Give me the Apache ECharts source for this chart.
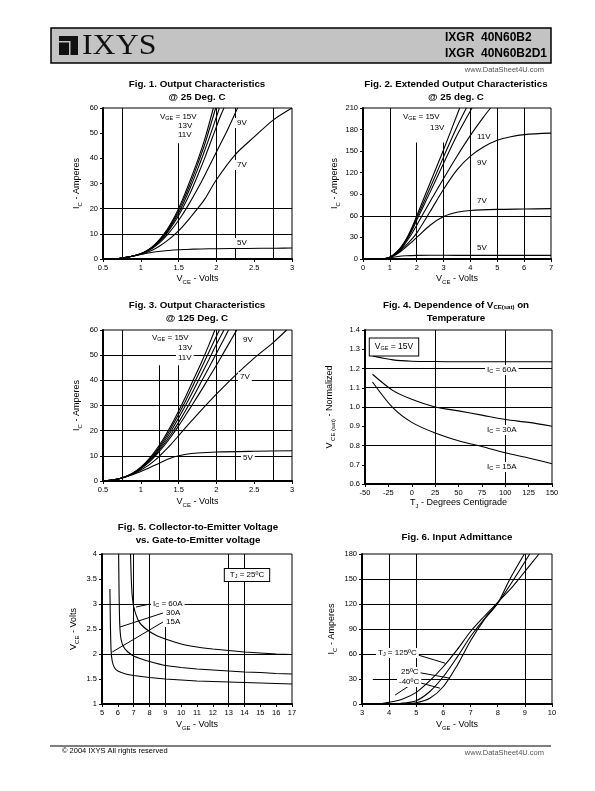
<!DOCTYPE html>
<html><head><meta charset="utf-8">
<script src="https://cdn.jsdelivr.net/npm/echarts@6/dist/echarts.min.js"></script>
<style>html,body{margin:0;padding:0;background:#fff}#c{width:595px;height:791px}</style>
</head><body><div id="c"></div>
<script>
// ---------------- DATA ----------------
// Fig. 1  Output characteristics @25C  [VCE (V), IC (A)]
const fig1_L1 = [[0.65,0],[0.75,0.4],[0.85,0.9],[0.95,1.6],[1.05,2.8],[1.15,4.8],[1.25,7.8],[1.35,11.8],[1.45,17],[1.55,23.5],[1.65,31],[1.75,39],[1.85,48],[1.96,60]];
const fig1_15V = [[0.65,0],[0.75,0.4],[0.85,0.9],[0.95,1.6],[1.05,2.8],[1.15,4.7],[1.25,7.6],[1.35,11.4],[1.45,16.3],[1.55,22.5],[1.65,29.5],[1.75,37.5],[1.85,46],[1.99,60]];
const fig1_13V = [[0.65,0],[0.75,0.4],[0.85,0.9],[0.95,1.6],[1.05,2.7],[1.15,4.6],[1.25,7.3],[1.35,11],[1.45,15.6],[1.55,21.3],[1.65,28],[1.75,35.5],[1.85,43.5],[1.95,52],[2.04,60]];
const fig1_11V = [[0.65,0],[0.75,0.4],[0.85,0.9],[0.95,1.6],[1.05,2.7],[1.15,4.5],[1.25,7],[1.35,10.5],[1.45,14.8],[1.55,20],[1.65,26],[1.75,33],[1.85,40.5],[1.95,48.5],[2.05,56.5],[2.1,60]];
const fig1_9V = [[0.65,0],[0.75,0.4],[0.85,0.9],[0.95,1.6],[1.05,2.6],[1.15,4.2],[1.25,6.5],[1.35,9.6],[1.45,13.3],[1.55,17.6],[1.65,22.5],[1.75,27.8],[1.85,33.5],[1.95,39.5],[2.05,45.5],[2.15,51.5],[2.28,60]];
const fig1_7V = [[0.65,0],[0.75,0.4],[0.85,0.9],[0.95,1.5],[1.05,2.3],[1.15,3.5],[1.25,5.2],[1.35,7.3],[1.45,9.8],[1.55,12.8],[1.65,16.3],[1.75,20],[1.85,24],[2,31.5],[2.25,41.5],[2.5,48.5],[2.75,55.2],[3,60]];
const fig1_5V = [[0.65,0],[0.75,0.4],[0.85,0.9],[0.95,1.5],[1.05,2.1],[1.2,2.9],[1.4,3.5],[1.6,3.8],[1.8,4.0],[2.0,4.1],[2.4,4.2],[2.8,4.3],[3,4.4]];

// Fig. 2  Extended output characteristics @25C
const fig2_L1 = [[0.7,0],[0.9,1],[1,2.5],[1.2,8],[1.4,16],[1.6,27],[1.8,42],[2,60],[2.5,106],[3,152],[3.6,210]];
const fig2_15V = [[0.7,0],[0.9,1],[1,2.5],[1.2,7.5],[1.4,15],[1.6,26],[1.8,40],[2,57],[2.5,99],[3,142],[3.5,184],[3.85,210]];
const fig2_13V = [[0.7,0],[0.9,1],[1,2.4],[1.2,7],[1.4,14],[1.6,25],[1.8,38],[2,54],[2.5,93],[3,133],[3.5,172],[4.06,210]];
const fig2_11V = [[0.7,0],[0.9,1],[1,2.3],[1.2,6.5],[1.4,13],[1.6,23],[1.8,34],[2,47],[2.5,80],[3,112],[3.5,143],[4,172],[4.5,198],[4.75,210]];
const fig2_9V = [[0.7,0],[1,2],[1.2,6],[1.4,12],[1.6,19],[1.8,27],[2,36],[2.5,66],[3,97],[3.5,124],[4,143],[4.5,156],[5,165],[5.5,170],[6,173],[7,175]];
const fig2_7V = [[0.7,0],[1,2],[1.2,5.5],[1.4,10.5],[1.6,16.5],[1.8,23],[2,30],[2.5,47],[3,59],[3.5,65],[4,67.5],[5,69],[6,69.5],[7,70]];
const fig2_5V = [[0.7,0],[1,1.5],[1.3,3.5],[1.6,4.5],[2,5],[3,5.2],[4,5],[7,5]];

// Fig. 3  Output characteristics @125C
const fig3_L1 = [[0.5,0],[0.6,0.3],[0.7,0.8],[0.8,1.8],[0.9,3.3],[1,5.5],[1.1,8.5],[1.2,12.3],[1.3,16.8],[1.4,22],[1.5,27.8],[1.6,34],[1.7,40.5],[1.8,47],[1.9,54],[1.98,60]];
const fig3_15V = [[0.5,0],[0.6,0.3],[0.7,0.8],[0.8,1.8],[0.9,3.2],[1,5.3],[1.1,8.1],[1.2,11.7],[1.3,16],[1.4,21],[1.5,26.5],[1.6,32.3],[1.7,38.5],[1.8,44.8],[1.9,51.2],[2.04,60]];
const fig3_13V = [[0.5,0],[0.6,0.3],[0.7,0.8],[0.8,1.7],[0.9,3.1],[1,5.1],[1.1,7.8],[1.2,11.2],[1.3,15.2],[1.4,19.8],[1.5,25],[1.6,30.5],[1.7,36.3],[1.8,42.2],[1.9,48.2],[2,54.3],[2.1,60]];
const fig3_11V = [[0.5,0],[0.6,0.3],[0.7,0.8],[0.8,1.7],[0.9,3.0],[1,5],[1.1,7.5],[1.2,10.7],[1.3,14.4],[1.4,18.6],[1.5,23.3],[1.6,28.4],[1.7,33.8],[1.8,39.4],[1.9,45],[2,50.7],[2.1,56.4],[2.16,60]];
const fig3_9V = [[0.5,0],[0.6,0.3],[0.7,0.8],[0.8,1.7],[0.9,2.9],[1,4.8],[1.1,7.2],[1.2,10.2],[1.3,13.7],[1.4,17.6],[1.5,21.9],[1.6,26.5],[1.7,31.2],[1.8,36],[1.9,41],[2,46],[2.1,51.2],[2.2,56.4],[2.27,60]];
const fig3_7V = [[0.5,0],[0.6,0.3],[0.7,0.8],[0.8,1.7],[0.9,2.9],[1,4.4],[1.1,6.2],[1.2,8.6],[1.3,11.5],[1.4,14.6],[1.5,18],[1.6,21.5],[1.75,26.5],[2,34.5],[2.25,42],[2.5,48.8],[2.75,55],[2.93,60]];
const fig3_5V = [[0.5,0],[0.6,0.3],[0.7,0.8],[0.8,1.6],[0.9,2.6],[1,3.8],[1.1,5.1],[1.25,7.2],[1.4,9.1],[1.5,10],[1.6,10.6],[1.75,11.1],[2,11.5],[2.5,11.8],[3,12]];

// Fig. 4  VCE(sat) normalized vs TJ
const fig4_60A = [[-42,1.265],[-20,1.245],[0,1.238],[25,1.236],[50,1.235],[75,1.235],[100,1.235],[125,1.235],[150,1.235]];
const fig4_30A = [[-42,1.17],[-20,1.085],[0,1.04],[25,1.0],[50,0.98],[75,0.958],[100,0.935],[125,0.92],[150,0.9]];
const fig4_15A = [[-42,1.13],[-20,0.995],[0,0.92],[25,0.865],[50,0.825],[75,0.795],[100,0.762],[125,0.735],[150,0.705]];

// Fig. 5  VCE vs VGE
const fig5_60A = [[6.8,4],[6.85,3.5],[6.9,3.2],[7,2.95],[7.25,2.7],[7.5,2.58],[8,2.45],[8.5,2.36],[9,2.3],[10,2.2],[11,2.14],[12,2.1],[13,2.07],[14,2.04],[15,2.02],[16,2.0],[17,1.99]];
const fig5_30A = [[6.05,4],[6.08,3.2],[6.12,2.6],[6.2,2.3],[6.35,2.15],[6.6,2.05],[7,1.96],[7.5,1.9],[8,1.85],[9,1.77],[10,1.73],[11,1.7],[12,1.68],[13,1.66],[14,1.64],[15,1.63],[16,1.61],[17,1.6]];
const fig5_15A = [[5.5,3.3],[5.53,2.6],[5.57,2.1],[5.65,1.85],[5.8,1.72],[6,1.66],[6.5,1.6],[7,1.57],[8,1.53],[9,1.5],[10,1.48],[11,1.46],[12,1.45],[13,1.44],[14,1.43],[15,1.42],[16,1.41],[17,1.4]];

// Fig. 6  Input admittance  [VGE (V), IC (A)]
const fig6_m40C = [[4.6,0],[5,1.5],[5.5,7],[6,21],[6.5,46],[7,76],[7.5,101],[8,121],[8.45,150],[8.98,180]];
const fig6_25C = [[4.2,0],[4.5,1],[5,4],[5.5,15],[6,33],[6.5,56],[7,81],[7.5,102],[8,121],[8.6,150],[9.18,180]];
const fig6_125C = [[3.6,0],[4,2],[4.5,6],[5,14],[5.5,28],[6,45],[6.5,65],[7,87],[7.5,105],[8,122],[8.5,139],[8.78,150],[9.52,180]];

// Axis tick setups  [min, max, interval]
const fig1_x = [0.5, 3, 0.5], fig1_y = [0, 60, 10];
const fig2_x = [0, 7, 1],     fig2_y = [0, 210, 30];
const fig3_x = [0.5, 3, 0.5], fig3_y = [0, 60, 10];
const fig4_x = [-50, 150, 25], fig4_y = [0.6, 1.4, 0.1];
const fig5_x = [5, 17, 1],    fig5_y = [1, 4, 0.5];
const fig6_x = [3, 10, 1],    fig6_y = [0, 180, 30];

// Reference grid lines of each figure: vertical [x, yFrom, yTo], horizontal [y, xFrom, xTo]
const fig1_vg = [[0.75,0,60],[1.5,0,46],[2,0,60],[2.25,0,60],[2.75,0,60]], fig1_hg = [[10,0.5,3],[20,0.5,3]];
const fig2_vg = [[1,0,210],[2,0,162],[3,0,162],[4,0,210],[5,0,210],[6,0,210]], fig2_hg = [[60,0,7]];
const fig3_vg = [[0.75,0,60],[1.25,0,46],[1.5,0,46],[2,0,60],[2.25,0,60],[2.75,0,60]], fig3_hg = [[10,0.5,3],[20,0.5,3],[30,0.5,3],[40,0.5,3],[50,0.5,3]];
const fig4_vg = [[25,0.6,1.4],[100,0.6,1.4]], fig4_hg = [[1.2,-50,150],[1.1,-50,150],[1.0,-50,150],[0.8,-50,150]];
const fig5_vg = [[7,1,4],[8,1,4],[9,1,2.55],[13,1,4],[14,1,4]], fig5_hg = [[3,5,17],[2,5,17]];
const fig6_vg = [[4,0,180],[5,0,180],[9,0,180]], fig6_hg = [[30,3.4,10],[60,3,10],[90,3,10],[120,3,10],[150,3,10]];

// leader lines from labels to curves (data coords)
const fig5_leaders = [[[8.03,3.0],[7.15,2.94]],[[8.85,2.82],[6.14,2.54]],[[8.85,2.64],[5.65,2.04]]];
const fig6_leaders = [[[4.84,61],[6.06,49]],[[4.99,38.4],[6.24,31]],[[5.03,26.4],[5.87,19]],[[4.22,10.8],[4.84,24]]];

// ---------------- CHART ----------------
const F = '"Liberation Sans", Arial, sans-serif';
const chart = echarts.init(document.getElementById('c'), null, {renderer:'canvas'});
const GRIDS = [
  {left:103, top:108, width:189, height:151},
  {left:363, top:108, width:188, height:151},
  {left:103, top:330, width:189, height:151},
  {left:365, top:330, width:187, height:154},
  {left:102, top:554, width:190, height:150},
  {left:362, top:554, width:190, height:150}
];
const rich = {
  n:{fontSize:9, fontFamily:F, color:'#000', lineHeight:12},
  s:{fontSize:6, fontFamily:F, color:'#000', lineHeight:7, verticalAlign:'bottom'}
};
function xAxis(i, r, name, gap){
  return {gridIndex:i, type:'value', min:r[0], max:r[1], interval:r[2],
    axisLine:{show:true, onZero:false, lineStyle:{color:'#000', width:2}},
    axisTick:{show:true, length:3, lineStyle:{color:'#000', width:1}},
    axisLabel:{color:'#000', fontSize:7.5, fontFamily:F, margin:5},
    splitLine:{show:false},
    name:name, nameLocation:'middle', nameGap:gap, nameTextStyle:{color:'#000', fontSize:9, fontFamily:F, rich:rich}};
}
function yAxis(i, r, name, gap, fmt){
  return {gridIndex:i, type:'value', min:r[0], max:r[1], interval:r[2],
    axisLine:{show:true, onZero:false, lineStyle:{color:'#000', width:2}},
    axisTick:{show:true, length:3, lineStyle:{color:'#000', width:1}},
    axisLabel:{color:'#000', fontSize:7.5, fontFamily:F, margin:5, formatter:fmt},
    splitLine:{show:false},
    name:name, nameLocation:'middle', nameRotate:90, nameGap:gap, nameTextStyle:{color:'#000', fontSize:9, fontFamily:F, rich:rich}};
}
function curve(i, data, sm){
  return {type:'line', xAxisIndex:i, yAxisIndex:i, data:data, showSymbol:false, symbol:'none',
    smooth: sm===undefined?0.3:sm, silent:true, lineStyle:{color:'#000', width:1.1}, z:3};
}
function gridLines(i, vg, hg, leaders){
  const d = [];
  vg.forEach(v=>d.push([{coord:[v[0],v[1]]},{coord:[v[0],v[2]]}]));
  hg.forEach(h=>d.push([{coord:[h[1],h[0]]},{coord:[h[2],h[0]]}]));
  (leaders||[]).forEach(l=>d.push([{coord:l[0]},{coord:l[1]}]));
  return {type:'line', xAxisIndex:i, yAxisIndex:i, data:[], silent:true, z:2,
    markLine:{silent:true, symbol:'none', animation:false, label:{show:false},
      lineStyle:{color:'#000', width:1, type:'solid'}, data:d}};
}
function txt(x, y, text, opt){
  opt = opt || {};
  return {type:'text', x:x, y:y, z:100, silent:true,
    style:Object.assign({text:text, fill:'#000', font:(opt.bold?'bold ':'')+(opt.size||8)+'px '+F,
      textAlign:opt.align||'left', textVerticalAlign:'middle', rich:opt.rich}, opt.style||{})};
}
const lab = {n:{fontSize:8, fontFamily:F, color:'#000'}, s:{fontSize:5.5, fontFamily:F, color:'#000', verticalAlign:'bottom', lineHeight:6}};
const labBg = {backgroundColor:'#fff', padding:[1,2]};
const tr = {n:{fontSize:9.8, fontFamily:F, fontWeight:'bold', color:'#000'}, s:{fontSize:6, fontFamily:F, fontWeight:'bold', color:'#000', verticalAlign:'bottom', lineHeight:7}};

const graphics = [
  // header
  {type:'rect', shape:{x:51, y:28, width:500, height:35}, style:{fill:'#c3c3c3', stroke:'#000', lineWidth:1.5}},
  {type:'rect', shape:{x:59, y:36, width:19, height:19}, style:{fill:'#111'}},
  {type:'rect', shape:{x:59, y:41, width:11, height:1.5}, style:{fill:'#c3c3c3'}},
  {type:'rect', shape:{x:69, y:41, width:1.5, height:14}, style:{fill:'#c3c3c3'}},
  {type:'text', x:82, y:46, scaleX:1.1, style:{text:'IXYS', fill:'#111', font:'29px "Liberation Serif", serif', textVerticalAlign:'middle'}},
  txt(445, 38, 'IXGR  40N60B2', {bold:true, size:12}),
  txt(445, 54, 'IXGR  40N60B2D1', {bold:true, size:12}),
  txt(544, 70, 'www.DataSheet4U.com', {size:7.5, align:'right', style:{fill:'#555'}}),
  // footer
  {type:'line', shape:{x1:50, y1:746, x2:551, y2:746}, style:{stroke:'#000', lineWidth:1}},
  txt(62, 751, '© 2004 IXYS All rights reserved', {size:7.5}),
  txt(544, 753, 'www.DataSheet4U.com', {size:7.5, align:'right', style:{fill:'#555'}}),
  // titles
  txt(197, 84, 'Fig. 1. Output Characteristics', {bold:true, size:9.8, align:'center'}),
  txt(197, 97, '@ 25 Deg. C', {bold:true, size:9.8, align:'center'}),
  txt(456, 84, 'Fig. 2. Extended Output Characteristics', {bold:true, size:9.8, align:'center'}),
  txt(456, 97, '@ 25 deg. C', {bold:true, size:9.8, align:'center'}),
  txt(197, 305, 'Fig. 3. Output Characteristics', {bold:true, size:9.8, align:'center'}),
  txt(197, 318, '@ 125 Deg. C', {bold:true, size:9.8, align:'center'}),
  txt(456, 305, '{n|Fig. 4. Dependence of V}{s|CE(sat)}{n| on}', {bold:true, size:9.8, align:'center', rich:tr}),
  txt(456, 318, 'Temperature', {bold:true, size:9.8, align:'center'}),
  txt(198, 527, 'Fig. 5. Collector-to-Emitter Voltage', {bold:true, size:9.8, align:'center'}),
  txt(198, 540, 'vs. Gate-to-Emitter voltage', {bold:true, size:9.8, align:'center'}),
  txt(457, 537, 'Fig. 6. Input Admittance', {bold:true, size:9.8, align:'center'}),
  // fig1 labels
  txt(158, 117, '{n|V}{s|GE}{n| = 15V}', {rich:lab, style:labBg}),
  txt(176, 126, '13V', {style:labBg}),
  txt(176, 135, '11V', {style:labBg}),
  txt(235, 123, '9V', {style:labBg}),
  txt(235, 165, '7V', {style:labBg}),
  txt(235, 243, '5V', {style:labBg}),
  // fig2 labels
  txt(401, 117, '{n|V}{s|GE}{n| = 15V}', {rich:lab, style:labBg}),
  txt(428, 128, '13V', {style:labBg}),
  txt(475, 137, '11V', {style:labBg}),
  txt(475, 163, '9V', {style:labBg}),
  txt(475, 201, '7V', {style:labBg}),
  txt(475, 248, '5V', {style:labBg}),
  // fig3 labels
  txt(150, 338, '{n|V}{s|GE}{n| = 15V}', {rich:lab, style:labBg}),
  txt(176, 348, '13V', {style:labBg}),
  txt(176, 358, '11V', {style:labBg}),
  txt(241, 340, '9V', {style:labBg}),
  txt(238, 377, '7V', {style:labBg}),
  txt(241, 458, '5V', {style:labBg}),
  // fig4 labels
  txt(394, 347, '{n|V}{s|GE}{n| = 15V}', {align:'center', rich:{n:{fontSize:8.5,fontFamily:F,color:'#000'}, s:lab.s}, style:{backgroundColor:'#fff', borderColor:'#000', borderWidth:1, padding:[4,5]}}),
  txt(485, 370, '{n|I}{s|C}{n| = 60A}', {rich:lab, style:labBg}),
  txt(485, 430, '{n|I}{s|C}{n| = 30A}', {rich:lab, style:labBg}),
  txt(485, 467, '{n|I}{s|C}{n| = 15A}', {rich:lab, style:labBg}),
  // fig5 labels
  txt(247, 575, '{n|T}{s|J}{n| = 25ºC}', {align:'center', rich:lab, style:{backgroundColor:'#fff', borderColor:'#000', borderWidth:1, padding:[2,5]}}),
  txt(151, 604, '{n|I}{s|C}{n| = 60A}', {rich:lab, style:labBg}),
  txt(164, 613, '30A', {style:labBg}),
  txt(164, 622, '15A', {style:labBg}),
  // fig6 labels
  txt(376, 653, '{n|T}{s|J}{n| = 125ºC}', {rich:lab, style:labBg}),
  txt(399, 672, '25ºC', {style:labBg}),
  txt(397, 682, '-40ºC', {style:labBg})
];

const option = {
  animation:false,
  backgroundColor:'#fff',
  grid: GRIDS.map(g=>Object.assign({show:true, borderColor:'#000', borderWidth:1, containLabel:false}, g)),
  xAxis:[
    xAxis(0, fig1_x, '{n|V}{s|CE}{n| - Volts}', 14),
    xAxis(1, fig2_x, '{n|V}{s|CE}{n| - Volts}', 14),
    xAxis(2, fig3_x, '{n|V}{s|CE}{n| - Volts}', 15),
    xAxis(3, fig4_x, '{n|T}{s|J}{n| - Degrees Centigrade}', 13),
    xAxis(4, fig5_x, '{n|V}{s|GE}{n| - Volts}', 15),
    xAxis(5, fig6_x, '{n|V}{s|GE}{n| - Volts}', 15)
  ],
  yAxis:[
    yAxis(0, fig1_y, '{n|I}{s|C}{n| - Amperes}', 20),
    yAxis(1, fig2_y, '{n|I}{s|C}{n| - Amperes}', 22),
    yAxis(2, fig3_y, '{n|I}{s|C}{n| - Amperes}', 20),
    yAxis(3, fig4_y, '{n|V}{s| CE (sat)}{n| - Normalized}', 29, v=>v.toFixed(1)),
    yAxis(4, fig5_y, '{n|V}{s|CE}{n| - Volts}', 22),
    yAxis(5, fig6_y, '{n|I}{s|C}{n| - Amperes}', 24)
  ],
  series:[
    gridLines(0, fig1_vg, fig1_hg),
    curve(0, fig1_L1), curve(0, fig1_15V), curve(0, fig1_13V), curve(0, fig1_11V), curve(0, fig1_9V), curve(0, fig1_7V), curve(0, fig1_5V),
    gridLines(1, fig2_vg, fig2_hg),
    curve(1, fig2_L1), curve(1, fig2_15V), curve(1, fig2_13V), curve(1, fig2_11V), curve(1, fig2_9V), curve(1, fig2_7V), curve(1, fig2_5V),
    gridLines(2, fig3_vg, fig3_hg),
    curve(2, fig3_L1), curve(2, fig3_15V), curve(2, fig3_13V), curve(2, fig3_11V), curve(2, fig3_9V), curve(2, fig3_7V), curve(2, fig3_5V),
    gridLines(3, fig4_vg, fig4_hg),
    curve(3, fig4_60A), curve(3, fig4_30A), curve(3, fig4_15A),
    gridLines(4, fig5_vg, fig5_hg, fig5_leaders),
    curve(4, fig5_60A, 0.15), curve(4, fig5_30A, 0.15), curve(4, fig5_15A, 0.15),
    gridLines(5, fig6_vg, fig6_hg, fig6_leaders),
    curve(5, fig6_m40C), curve(5, fig6_25C), curve(5, fig6_125C)
  ],
  graphic: graphics
};
chart.setOption(option);
</script>
</body></html>
